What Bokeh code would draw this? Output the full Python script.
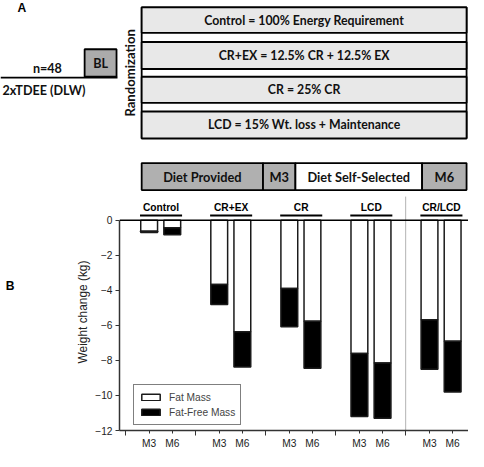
from bokeh.plotting import figure
from bokeh.models import Range1d, Span, Legend, LegendItem, FixedTicker, ColumnDataSource
from bokeh.layouts import column, row
from bokeh.core.properties import value
from bokeh.embed import file_html
from bokeh.resources import INLINE

# ---------------- data ----------------
groups = ["Control", "CR+EX", "CR", "LCD", "CR/LCD"]
timepoints = ["M3", "M6"]
fat_m3 = [-0.62, -3.67, -3.90, -7.60, -5.68]
ffm_m3 = [-0.08, -1.13, -2.18, -3.60, -2.82]
fat_m6 = [-0.42, -6.36, -5.77, -8.15, -6.90]
ffm_m6 = [-0.40, -2.02, -2.67, -3.15, -2.90]
y_ticks = [0, -2, -4, -6, -8, -10, -12]

arm_labels = ["Control = 100% Energy Requirement",
              "CR+EX = 12.5% CR + 12.5% EX",
              "CR = 25% CR",
              "LCD = 15% Wt. loss + Maintenance"]
timeline_labels = ["Diet Provided", "M3", "Diet Self-Selected", "M6"]

# ---------------- layout constants ----------------
W, H = 468, 451
S = 468 / 484.0            # scale of reference pixels to page pixels
HA = 193
HB = H - HA
WL = 20                    # narrow strip holding the "B" panel letter
FONT_A = "Lato"
FONT_B = "Liberation Sans"

def fs(px):
    return "%.1fpx" % (px * S)

def blank(fig):
    fig.frame_align = False
    fig.axis.visible = False
    fig.grid.visible = False
    fig.outline_line_color = None

# ================= Panel A (schematic) =================
pa = figure(width=W, height=HA, x_range=Range1d(0, 484), y_range=Range1d(200, 0),
            output_backend="svg", toolbar_location=None, min_border=0)
blank(pa)

pa.text(x=[22], y=[8], text=["A"], text_font=value(FONT_B), text_font_style="bold",
        text_font_size=fs(12.5), text_align="center", text_baseline="middle", text_color="black")

pa.segment(x0=[0], y0=[80], x1=[121], y1=[80], line_color="black", line_width=1.8)
pa.text(x=[48.5], y=[70], text=["n=48"], text_font=value(FONT_A), text_font_style="bold",
        text_font_size=fs(13), text_align="center", text_baseline="middle", text_color="#111")
pa.quad(left=[87], right=[120], top=[50.5], bottom=[79], fill_color="#ababab",
        line_color="black", line_width=1.8)
pa.text(x=[103.5], y=[65], text=["BL"], text_font=value(FONT_A), text_font_style="bold",
        text_font_size=fs(13), text_align="center", text_baseline="middle", text_color="#111")
pa.text(x=[45], y=[93.5], text=["2xTDEE (DLW)"], text_font=value(FONT_A), text_font_style="bold",
        text_font_size=fs(13), text_align="center", text_baseline="middle", text_color="#111")
pa.text(x=[134], y=[75], text=["Randomization"], angle=1.5708, text_font=value(FONT_A),
        text_font_style="bold", text_font_size=fs(13.5), text_align="center",
        text_baseline="middle", text_color="#111")

box_l, box_r = 146, 482
arm_tops = [7, 43, 79, 115]
arm_bots = [33.5, 71, 106, 143]
pa.segment(x0=[box_l, box_r], y0=[7, 7], x1=[box_l, box_r], y1=[143, 143],
           line_color="black", line_width=1.8)
pa.quad(left=[box_l] * 4, right=[box_r] * 4, top=arm_tops, bottom=arm_bots,
        fill_color="#e8e8e8", line_color="black", line_width=1.8)
pa.text(x=[(box_l + box_r) / 2] * 4, y=[(t + b) / 2 for t, b in zip(arm_tops, arm_bots)],
        text=arm_labels, text_font=value(FONT_A), text_font_style="bold",
        text_font_size=fs(12.7), text_align="center", text_baseline="middle", text_color="#111")

edges = [146, 271.5, 305, 436, 482]
fills = ["#b0b0b0", "#b0b0b0", "white", "#b0b0b0"]
pa.quad(left=edges[:-1], right=edges[1:], top=[168.5] * 4, bottom=[196.5] * 4,
        fill_color=fills, line_color="black", line_width=1.8)
pa.text(x=[(a + b) / 2 for a, b in zip(edges[:-1], edges[1:])], y=[182.5] * 4,
        text=timeline_labels, text_font=value(FONT_A), text_font_style="bold",
        text_font_size=fs(13.2), text_align="center", text_baseline="middle", text_color="#111")

# ================= "B" strip =================
pl = figure(width=WL, height=HB, x_range=Range1d(0, WL / S), y_range=Range1d(467, 200),
            output_backend="svg", toolbar_location=None, min_border=0)
blank(pl)
pl.text(x=[10], y=[296], text=["B"], text_font=value(FONT_B), text_font_style="bold",
        text_font_size=fs(12.5), text_align="center", text_baseline="middle", text_color="black")

# ================= Panel B (bar chart) =================
x0_ref, unit_ref = 129.0, 72.5
xl = (123 - x0_ref) / unit_ref
xr = (484 - x0_ref) / unit_ref
ytop = (228 - 200) / 18.3

pb = figure(width=W - WL, height=HB, x_range=Range1d(xl, xr), y_range=Range1d(-12, ytop),
            output_backend="svg", toolbar_location=None,
            min_border_left=int(round(123 * S)) - WL, min_border_right=0,
            min_border_top=0, min_border_bottom=19)
pb.frame_align = False
pb.grid.visible = False
pb.outline_line_color = None

off = {"M3": 0.34, "M6": 0.67}
bw = 0.24
n = len(groups)
xs3 = [i + off["M3"] for i in range(n)]
xs6 = [i + off["M6"] for i in range(n)]

src_fat = ColumnDataSource(dict(x=xs3 + xs6, top=[0] * (2 * n), bottom=fat_m3 + fat_m6))
src_ffm = ColumnDataSource(dict(x=xs3 + xs6, top=fat_m3 + fat_m6,
                                bottom=[f + g for f, g in zip(fat_m3, ffm_m3)] +
                                       [f + g for f, g in zip(fat_m6, ffm_m6)]))
r_fat = pb.vbar(x="x", top="top", bottom="bottom", width=bw, source=src_fat,
                fill_color="white", line_color="#1a1a1a", line_width=1.5)
r_ffm = pb.vbar(x="x", top="top", bottom="bottom", width=bw, source=src_ffm,
                fill_color="black", line_color="#1a1a1a", line_width=1.5)

pb.add_layout(Span(location=0, dimension="width", line_color="black", line_width=1.5))

pb.segment(x0=[4.0], y0=[-12], x1=[4.0], y1=[1.37], line_color="#666666",
           line_width=1, line_dash="1 1")

gx = [i + 0.51 for i in range(n)]
pb.text(x=gx, y=[0.72] * n, text=groups, text_font=value(FONT_B), text_font_style="bold",
        text_font_size=fs(10.5), text_align="center", text_baseline="middle", text_color="black")
pb.segment(x0=[g - 0.3 for g in gx], y0=[0.27] * n, x1=[g + 0.3 for g in gx], y1=[0.27] * n,
           line_color="black", line_width=2)

yax = pb.yaxis[0]
yax.ticker = FixedTicker(ticks=y_ticks)
yax.bounds = (-12, 0)
yax.axis_line_color = "#333333"
yax.axis_line_width = 1.5
yax.major_tick_out = 4
yax.major_tick_in = 0
yax.minor_tick_out = 0
yax.minor_tick_in = 0
yax.major_tick_line_color = "#333333"
yax.major_label_text_font = FONT_B
yax.major_label_text_font_size = fs(10.5)
yax.major_label_text_color = "#222222"
yax.major_label_standoff = 3
yax.axis_label = "Weight change (kg)"
yax.axis_label_text_font = FONT_B
yax.axis_label_text_font_style = "normal"
yax.axis_label_text_font_size = fs(12.3)
yax.axis_label_text_color = "#222222"
yax.axis_label_standoff = 2

xax = pb.xaxis[0]
xax.ticker = FixedTicker(ticks=xs3 + xs6, minor_ticks=[0, 1, 2, 3, 4])
xax.major_label_overrides = {float(x): timepoints[0] for x in xs3}
xax.major_label_overrides.update({float(x): timepoints[1] for x in xs6})
xax.axis_line_color = "#333333"
xax.axis_line_width = 1.5
xax.major_tick_out = 3
xax.major_tick_in = 0
xax.minor_tick_out = 5
xax.minor_tick_in = 0
xax.major_tick_line_color = "#333333"
xax.minor_tick_line_color = "#333333"
xax.major_label_text_font = FONT_B
xax.major_label_text_font_size = fs(10.5)
xax.major_label_text_color = "#222222"
xax.major_label_standoff = 2

legend = Legend(items=[LegendItem(label="Fat Mass", renderers=[r_fat]),
                       LegendItem(label="Fat-Free Mass", renderers=[r_ffm])],
                location=(14, 5), border_line_color="black", border_line_width=1,
                label_text_font=FONT_B, label_text_font_size=fs(10.5),
                glyph_width=23, glyph_height=8, label_height=14, spacing=1,
                padding=5, margin=0, label_standoff=7, background_fill_alpha=1)
pb.add_layout(legend)

layout = column(pa, row(pl, pb, spacing=0), spacing=0)
open("out.html", "w").write(file_html(layout, INLINE))
